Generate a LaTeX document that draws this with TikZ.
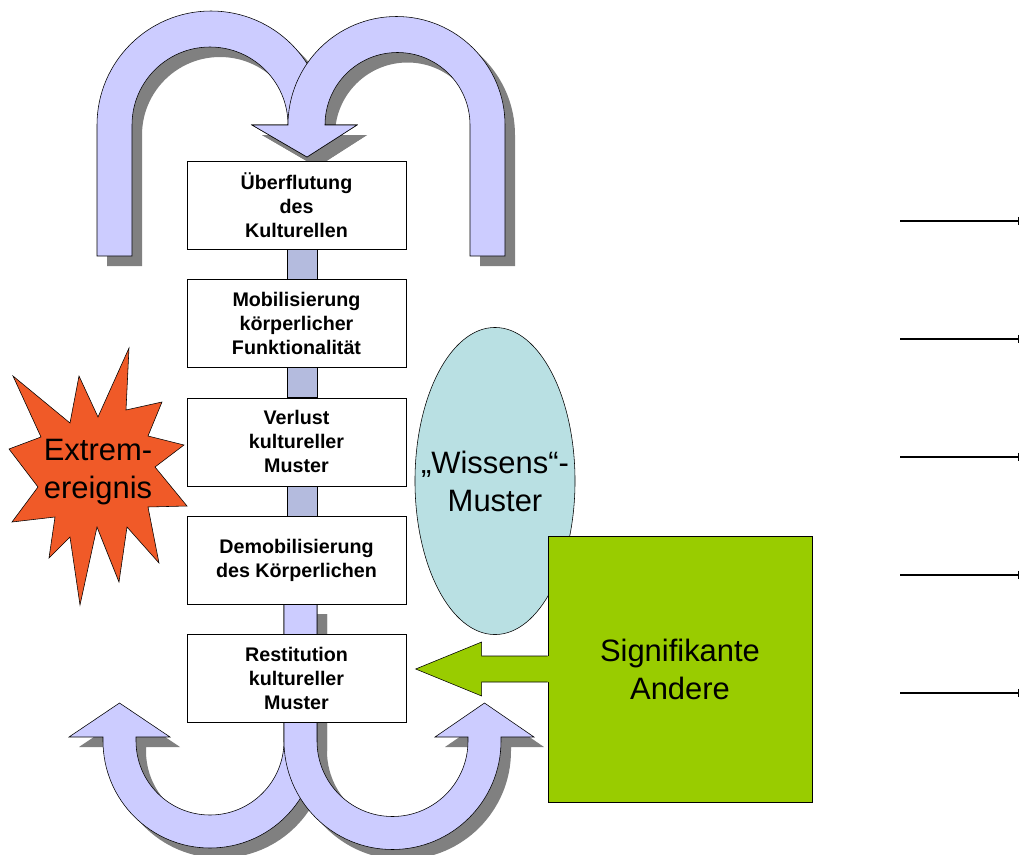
\documentclass[tikz,border=0pt]{standalone}
\usepackage{fontspec}
\setmainfont{Liberation Sans}
\usetikzlibrary{shapes, arrows.meta, positioning}
\definecolor{arrowblue}{RGB}{204,204,255}
\definecolor{linkblue}{RGB}{180,187,222}
\definecolor{shadowgray}{RGB}{128,128,128}
\definecolor{burst}{RGB}{240,90,40}
\definecolor{wissen}{RGB}{185,224,227}
\definecolor{signif}{RGB}{153,204,0}
\tikzstyle{stage}=[draw,fill=white,rectangle,minimum width=5.475cm,minimum height=2.2cm,inner sep=0pt,align=center,font=\bfseries\fontsize{14}{17}\selectfont]
\tikzstyle{link}=[draw,fill=linkblue]
\tikzstyle{bigarrow}=[draw,fill=arrowblue]
\tikzstyle{shadowfill}=[fill=shadowgray,shift={(10,10)}]
\tikzstyle{bigtext}=[align=center,inner sep=0pt,font=\fontsize{22}{27}\selectfont]
\tikzstyle{tick}=[-{Bar[width=6pt]},line width=0.8pt]
\newcommand{\archleft}{(97,256) -- (97,125) arc[start angle=180, end angle=360, radius=114] -- (357,125) -- (307,157) -- (252,125) -- (288,125) arc[start angle=0, end angle=-180, radius=78] -- (132,256) -- cycle}
\newcommand{\archright}{(505,256) -- (505,125) arc[start angle=0, end angle=-180, radius=108.5] -- (252,125) -- (307,157) -- (357,125) -- (325,125) arc[start angle=180, end angle=360, radius=72.5] -- (470,256) -- cycle}
\newcommand{\uleft}{(103,737) -- (69,737) -- (119.5,703) -- (170,737) -- (136,737) -- (136,741) arc[start angle=180, end angle=0, radius=74] -- (284,604) -- (317,604) -- (317,741) arc[start angle=0, end angle=180, radius=107] -- cycle}
\newcommand{\uright}{(284,604) -- (284,741) arc[start angle=180, end angle=0, radius=108.5] -- (501,737) -- (534,737) -- (484.5,703) -- (435,737) -- (468,737) -- (468,741) arc[start angle=0, end angle=180, radius=75.5] -- (317,604) -- cycle}

\begin{document}
\begin{tikzpicture}[x=0.025cm,y=-0.025cm,node distance=2.96cm,>=latex]
    \useasboundingbox (0,0) rectangle (1020,855);

    \fill[shadowfill] \archleft;
    \fill[shadowfill] \archright;
    \draw[bigarrow] \archleft;
    \draw[bigarrow] \archright;
    \fill[shadowfill] \uleft;
    \fill[shadowfill] \uright;
    \draw[bigarrow] \uleft;
    \draw[bigarrow] \uright;

    \node[stage] (flut) at (296.5,205) {Überflutung\\des\\Kulturellen};
    \node[stage, below of=flut] (mobil) {Mobilisierung\\körperlicher\\Funktionalität};
    \node[stage, below of=mobil] (verlust) {Verlust\\kultureller\\Muster};
    \node[stage, below of=verlust] (demob) {Demobilisierung\\des Körperlichen};
    \node[stage, below of=demob] (restit) {Restitution\\kultureller\\Muster};
    \draw[link] ([xshift=-0.24cm]flut.south) rectangle ([xshift=0.51cm]mobil.north);
    \draw[link] ([xshift=-0.24cm]mobil.south) rectangle ([xshift=0.51cm]verlust.north);
    \draw[link] ([xshift=-0.24cm]verlust.south) rectangle ([xshift=0.51cm]demob.north);

    \draw[fill=burst] (129,348) -- (126,410) -- (162,402) -- (148,436) -- (184,445) -- (155,467) -- (187,506) -- (148,507) -- (159,563) -- (127,527) -- (119,582) -- (97,527) -- (80,605) -- (70,537) -- (49,558) -- (55,517) -- (12,522) -- (38,487) -- (9,449) -- (41,437) -- (13,376) -- (70,423) -- (79,376) -- (98,417) -- cycle;
    \node[bigtext] (extrem) at (98,472) {Extrem-\\ereignis};

    \node[draw, ellipse, fill=wissen, minimum width=4cm, minimum height=7.675cm] (wissen) at (495,481) {};
    \node[bigtext] (wissentext) at (wissen) {„Wissens“-\\Muster};

    \node[draw, rectangle, fill=signif, minimum width=6.6cm, minimum height=6.65cm, bigtext] (andere) at (680,669) {Signifikante\\Andere};
    \fill[signif, shift={(andere.west)}] (2,-13) -- (-66,-13) -- (-66,-27) -- (-132,0) -- (-66,27) -- (-66,13) -- (2,13) -- cycle;
    \draw[shift={(andere.west)}] (0,-13) -- (-66,-13) -- (-66,-27) -- (-132,0) -- (-66,27) -- (-66,13) -- (0,13);

    \coordinate (s1) at (900,221); \coordinate (e1) at (1019,221);
    \coordinate (s2) at (900,339); \coordinate (e2) at (1019,339);
    \coordinate (s3) at (900,457); \coordinate (e3) at (1019,457);
    \coordinate (s4) at (900,575); \coordinate (e4) at (1019,575);
    \coordinate (s5) at (900,693); \coordinate (e5) at (1019,693);
    \draw[tick] (s1) -- (e1);
    \draw[tick] (s2) -- (e2);
    \draw[tick] (s3) -- (e3);
    \draw[tick] (s4) -- (e4);
    \draw[tick] (s5) -- (e5);
\end{tikzpicture}
\end{document}
